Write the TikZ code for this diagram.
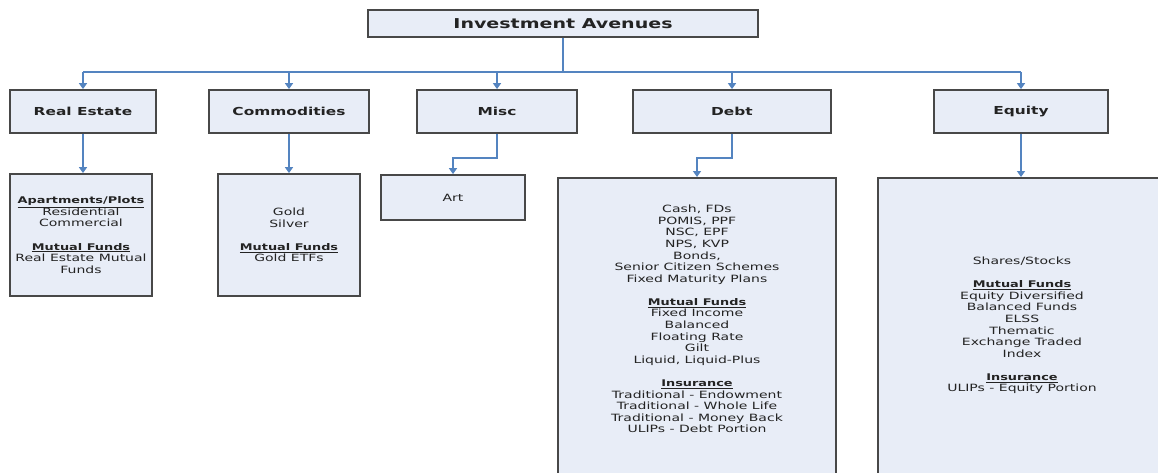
\documentclass[tikz,border=0pt]{standalone}
\usepackage{fontspec}
\setmainfont{DejaVu Sans}[FakeStretch=1.4]
\usetikzlibrary{arrows.meta}
\definecolor{boxfill}{RGB}{232,237,247}
\definecolor{boxline}{RGB}{72,72,72}
\definecolor{conncol}{RGB}{84,132,192}
\definecolor{txt}{RGB}{35,35,35}
\newcommand{\hd}[1]{\underline{{\fontsize{9.2}{11.58}\selectfont\bfseries #1}}}
\begin{document}
\begin{tikzpicture}[x=1pt,y=-1pt,
  box/.style={draw=boxline, fill=boxfill, line width=1.8pt, inner sep=0pt, text=txt, align=center},
  titlebox/.style={box, font=\fontsize{13.6}{16}\selectfont\bfseries},
  catbox/.style={box, minimum height=43pt, font=\fontsize{11}{13}\selectfont\bfseries},
  leafbox/.style={box, font=\fontsize{10}{11.58}\selectfont},
  body/.style={text=txt, align=center, font=\fontsize{10}{11.58}\selectfont, inner sep=0pt},
  link/.style={draw=conncol, line width=1.6pt},
  arr/.style={link, -{Triangle[width=8pt,length=6pt]}}
]
\fill[white] (0,0) rectangle (1158,472);
\useasboundingbox (0,0) rectangle (1158,472);
\clip (0,0) rectangle (1158,472);

% title
\node[titlebox, minimum width=390pt, minimum height=27pt] (top) at (563,23.5) {Investment Avenues};

% categories
\node[catbox, minimum width=146pt] (re)   at (83,111.5) {Real Estate};
\node[catbox, minimum width=160pt] (com)  at (289,111.5)  {Commodities};
\node[catbox, minimum width=160pt] (misc) at (497,111.5)  {Misc};
\node[catbox, minimum width=198pt] (debt) at (732,111.5) {Debt};
\node[catbox, minimum width=174pt] (eq)   at (1021,111.5) {Equity};

% bus
\coordinate (bus) at (563,72);
\draw[link] (top.south) -- (bus);
\draw[link] (re.north |- bus) -- (eq.north |- bus);
\foreach \n in {re,com,misc,debt,eq}{
  \draw[arr] (\n.north |- bus) -- (\n.north);
}

% leaves
\node[leafbox, minimum width=142pt, minimum height=122pt] (reL) at (81,235)
  {\hd{Apartments/Plots}\\Residential\\Commercial\\[11.58pt]\hd{Mutual Funds}\\Real Estate Mutual\\Funds};
\node[leafbox, minimum width=142pt, minimum height=122pt] (comL) at (289,235)
  {Gold\\Silver\\[11.58pt]\hd{Mutual Funds}\\Gold ETFs};
\node[leafbox, minimum width=144pt, minimum height=45pt] (art) at (453,197.5) {Art};

\node[box, minimum width=278pt, minimum height=330pt, anchor=north] (debtL) at (697,177) {};
\node[body] (debtT) at (697,319)
  {Cash, FDs\\POMIS, PPF\\NSC, EPF\\NPS, KVP\\Bonds,\\Senior Citizen Schemes\\Fixed Maturity Plans\\[11.58pt]
   \hd{Mutual Funds}\\Fixed Income\\Balanced\\Floating Rate\\Gilt\\Liquid, Liquid-Plus\\[11.58pt]
   \hd{Insurance}\\Traditional - Endowment\\Traditional - Whole Life\\Traditional - Money Back\\ULIPs - Debt Portion};

\node[box, minimum width=300pt, minimum height=330pt, anchor=north west] (eqL) at (877,177) {};
\node[body] (eqT) at (1022,325.5)
  {Shares/Stocks\\[11.58pt]\hd{Mutual Funds}\\Equity Diversified\\Balanced Funds\\ELSS\\Thematic\\Exchange Traded\\Index\\[11.58pt]
   \hd{Insurance}\\ULIPs - Equity Portion};

% leaf connectors
\draw[arr] (re.south) -- (re.south |- reL.north);
\draw[arr] (com.south) -- (com.south |- comL.north);
\coordinate (mbend) at (453,158);
\draw[arr] (misc.south) |- (mbend) -- (art.north);
\coordinate (dbend) at (697,158);
\draw[arr] (debt.south) |- (dbend) -- (debtL.north);
\draw[arr] (eq.south) -- (eq.south |- eqL.north);
\end{tikzpicture}
\end{document}
